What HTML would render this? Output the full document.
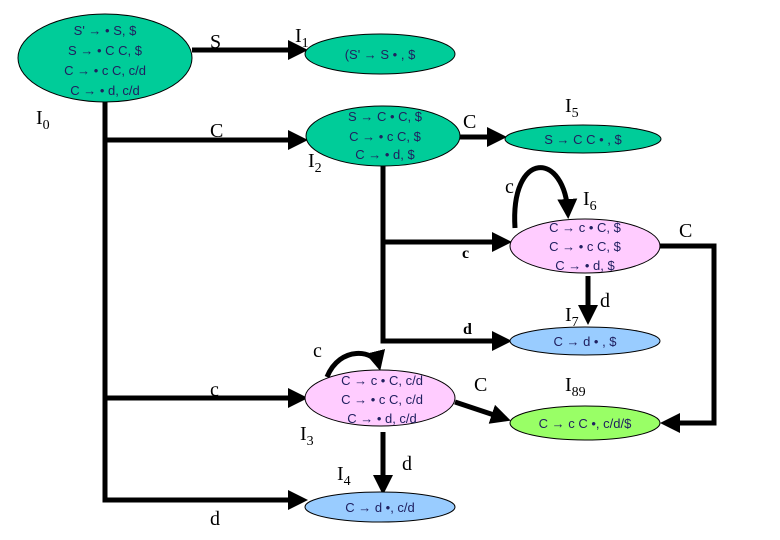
<!DOCTYPE html>
<html><head><style>body{margin:0;background:#fff}svg{display:block}
.t{font-family:"Liberation Sans",sans-serif;font-size:13px;fill:#202060;text-anchor:middle}
.l{font-family:"Liberation Serif",serif;font-size:20px;fill:#000}
</style></head><body>
<svg width="780" height="540" viewBox="0 0 780 540">
<defs><marker id="a" markerWidth="4" markerHeight="4" refX="3" refY="2" orient="auto" markerUnits="strokeWidth"><path d="M0,0 L4,2 L0,4z" fill="#000"/></marker></defs>
<g stroke="#000" stroke-width="5" fill="none">
<path d="M105,100 V500 H303" marker-end="url(#a)"/>
<path d="M192,50 H303" marker-end="url(#a)"/>
<path d="M105,140 H303" marker-end="url(#a)"/>
<path d="M105,398 H303" marker-end="url(#a)"/>
<path d="M383,163 V341 H507" marker-end="url(#a)"/>
<path d="M383,242 H507" marker-end="url(#a)"/>
<path d="M460,137 H502" marker-end="url(#a)"/>
<path d="M660,246 H714 V423 H665" marker-end="url(#a)"/>
<path d="M588,276 V320" marker-end="url(#a)"/>
<path d="M455,402 L506,419" marker-end="url(#a)"/>
<path d="M383,432 V490" marker-end="url(#a)"/>
<path d="M515,228 C510,150 565,150 568,214" marker-end="url(#a)"/>
<path d="M327,377 C340,345 375,350 379,366" marker-end="url(#a)"/>
</g>
<g stroke="#000" stroke-width="1">
<ellipse cx="105" cy="58" rx="87" ry="44" fill="#00cc99"/>
<ellipse cx="380" cy="54" rx="75" ry="20" fill="#00cc99"/>
<ellipse cx="383" cy="136" rx="77" ry="30" fill="#00cc99"/>
<ellipse cx="583" cy="139" rx="78" ry="14" fill="#00cc99"/>
<ellipse cx="585" cy="246" rx="75" ry="27" fill="#ffccff"/>
<ellipse cx="585" cy="341" rx="75" ry="14" fill="#99ccff"/>
<ellipse cx="380" cy="398" rx="75" ry="28" fill="#ffccff"/>
<ellipse cx="585" cy="423" rx="75" ry="17" fill="#99ff66"/>
<ellipse cx="380" cy="507" rx="75" ry="15" fill="#99ccff"/>
</g>
<g class="t">
<text x="105" y="35">S' → • S, $</text><text x="105" y="55">S → • C C, $</text><text x="105" y="75">C → • c C, c/d</text><text x="105" y="95">C → • d, c/d</text>
<text x="380" y="59">(S' → S • , $</text>
<text x="385" y="121">S → C • C, $</text><text x="385" y="141">C → • c C, $</text><text x="385" y="159">C → • d, $</text>
<text x="583" y="144">S → C C • , $</text>
<text x="585" y="232">C → c • C, $</text><text x="585" y="251">C → • c C, $</text><text x="585" y="270">C → • d, $</text>
<text x="585" y="346">C → d • , $</text>
<text x="382" y="385">C → c • C, c/d</text><text x="382" y="404">C → • c C, c/d</text><text x="382" y="423">C → • d, c/d</text>
<text x="585" y="428">C → c C •, c/d/$</text>
<text x="380" y="512">C → d •, c/d</text>
</g>
<g class="l">
<text x="210" y="48">S</text><text x="295" y="42">I<tspan font-size="14" dy="5">1</tspan></text>
<text x="36" y="124">I<tspan font-size="14" dy="5">0</tspan></text>
<text x="210" y="137">C</text>
<text x="308" y="167">I<tspan font-size="14" dy="5">2</tspan></text>
<text x="463" y="128">C</text>
<text x="565" y="112">I<tspan font-size="14" dy="5">5</tspan></text>
<text x="505" y="193">c</text>
<text x="583" y="205">I<tspan font-size="14" dy="5">6</tspan></text>
<text x="679" y="237">C</text>
<text x="462" y="258" font-weight="bold" font-size="16">c</text>
<text x="600" y="307">d</text>
<text x="565" y="321">I<tspan font-size="14" dy="5">7</tspan></text>
<text x="463" y="334" font-weight="bold" font-size="16">d</text>
<text x="313" y="357">c</text>
<text x="210" y="396">c</text>
<text x="474" y="391">C</text>
<text x="565" y="391">I<tspan font-size="14" dy="5">89</tspan></text>
<text x="300" y="440">I<tspan font-size="14" dy="5">3</tspan></text>
<text x="402" y="470">d</text>
<text x="337" y="480">I<tspan font-size="14" dy="5">4</tspan></text>
<text x="210" y="525">d</text>
</g>
</svg>
</body></html>
